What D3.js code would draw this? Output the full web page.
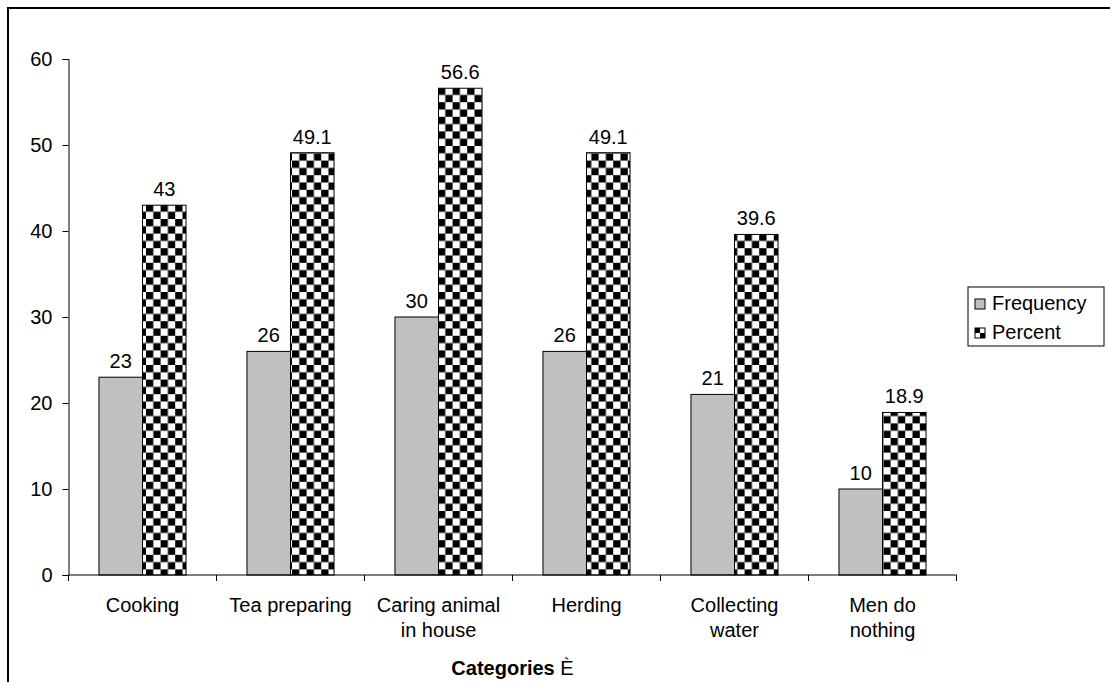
<!DOCTYPE html>
<html>
<head>
<meta charset="utf-8">
<script src="https://cdn.jsdelivr.net/npm/d3@7"></script>
<style>
  html, body { margin: 0; padding: 0; background: #fff; }
  svg { display: block; font-family: "Liberation Sans", Arial, sans-serif; }
</style>
</head>
<body>
<svg id="chart" width="1110" height="682"></svg>
<script>
// Household tasks by category: counts and percentages
const categories = [
  ["Cooking"],
  ["Tea preparing"],
  ["Caring animal", "in house"],
  ["Herding"],
  ["Collecting", "water"],
  ["Men do", "nothing"]
];
const frequency = [23, 26, 30, 26, 21, 10];
const percent = [43, 49.1, 56.6, 49.1, 39.6, 18.9];
const seriesNames = ["Frequency", "Percent"];
const yTicks = [0, 10, 20, 30, 40, 50, 60];
const xTitle = "Categories";
const xTitleMark = "\u00C8";

const FONT = 20;
const svg = d3.select("#chart");

// outer frame
svg.append("rect")
  .attr("x", 8).attr("y", 8)
  .attr("width", 1110).attr("height", 690)
  .attr("fill", "none").attr("stroke", "#000").attr("stroke-width", 2);

// checkerboard fill for the percent series
const defs = svg.append("defs");
const cell = 7.3;
const pat = defs.append("pattern")
  .attr("id", "checker")
  .attr("patternUnits", "userSpaceOnUse")
  .attr("width", cell * 2).attr("height", cell * 2);
pat.append("rect").attr("width", cell * 2).attr("height", cell * 2).attr("fill", "#fff");
pat.append("rect").attr("x", 0).attr("y", 0).attr("width", cell).attr("height", cell).attr("fill", "#000");
pat.append("rect").attr("x", cell).attr("y", cell).attr("width", cell).attr("height", cell).attr("fill", "#000");

const legendPat = defs.append("pattern")
  .attr("id", "checkerLegend")
  .attr("patternUnits", "userSpaceOnUse")
  .attr("x", 975).attr("y", 328)
  .attr("width", 10).attr("height", 10);
legendPat.append("rect").attr("width", 10).attr("height", 10).attr("fill", "#fff");
legendPat.append("rect").attr("x", 0).attr("y", 0).attr("width", 5).attr("height", 5).attr("fill", "#000");
legendPat.append("rect").attr("x", 5).attr("y", 5).attr("width", 5).attr("height", 5).attr("fill", "#000");

const plot = { left: 68.5, right: 956.5, top: 59, bottom: 575 };

const x0 = d3.scaleBand()
  .domain(d3.range(categories.length))
  .range([plot.left, plot.right])
  .padding(0);

const x1 = d3.scaleBand()
  .domain(seriesNames)
  .range([0, x0.bandwidth()])
  .paddingInner(0)
  .paddingOuter(0.7);

const y = d3.scaleLinear().domain([0, 60]).range([plot.bottom, plot.top]);

const fills = { Frequency: "#c0c0c0", Percent: "url(#checker)" };
const values = { Frequency: frequency, Percent: percent };

// bars and value labels
seriesNames.forEach(s => {
  svg.append("g").selectAll("rect")
    .data(values[s])
    .join("rect")
    .attr("x", (d, i) => x0(i) + x1(s))
    .attr("y", d => y(d))
    .attr("width", x1.bandwidth())
    .attr("height", d => y(0) - y(d))
    .attr("fill", fills[s])
    .attr("stroke", "#000")
    .attr("stroke-width", 1);

  svg.append("g").selectAll("text")
    .data(values[s])
    .join("text")
    .attr("x", (d, i) => x0(i) + x1(s) + x1.bandwidth() / 2)
    .attr("y", d => y(d) - 9)
    .attr("text-anchor", "middle")
    .attr("font-size", FONT)
    .attr("fill", "#000")
    .text(d => d);
});

// y axis
const yAxis = svg.append("g")
  .attr("transform", `translate(${plot.left},0)`)
  .call(d3.axisLeft(y).tickValues(yTicks).tickSize(6).tickPadding(10).tickFormat(d3.format("d")));
yAxis.select(".domain").attr("stroke", "#000");
yAxis.selectAll("line").attr("stroke", "#000");
yAxis.selectAll("text").attr("font-size", FONT).attr("fill", "#000")
  .attr("font-family", "Liberation Sans, Arial, sans-serif");

// x axis: baseline with tick marks at the category boundaries
const xAxisG = svg.append("g");
xAxisG.append("line")
  .attr("x1", plot.left).attr("x2", plot.right)
  .attr("y1", y(0)).attr("y2", y(0))
  .attr("stroke", "#000");
const boundaries = d3.range(categories.length + 1).map(i => i < categories.length ? x0(i) : plot.right);
xAxisG.selectAll("line.tick")
  .data(boundaries)
  .join("line")
  .attr("class", "tick")
  .attr("x1", d => d).attr("x2", d => d)
  .attr("y1", y(0)).attr("y2", y(0) + 6)
  .attr("stroke", "#000");

// category labels
const labels = svg.append("g").selectAll("text")
  .data(categories)
  .join("text")
  .attr("x", (d, i) => x0(i) + x0.bandwidth() / 2)
  .attr("y", 612)
  .attr("text-anchor", "middle")
  .attr("font-size", FONT)
  .attr("fill", "#000");
labels.selectAll("tspan")
  .data(d => d)
  .join("tspan")
  .attr("x", function () { return d3.select(this.parentNode).attr("x"); })
  .attr("dy", (d, i) => i === 0 ? 0 : 25)
  .text(d => d);

// x axis title
const title = svg.append("text")
  .attr("x", (plot.left + plot.right) / 2)
  .attr("y", 675)
  .attr("text-anchor", "middle")
  .attr("font-size", FONT)
  .attr("fill", "#000");
title.append("tspan").attr("font-weight", "bold").text(xTitle + " ");
title.append("tspan").text(xTitleMark);

// legend
const legend = svg.append("g");
legend.append("rect")
  .attr("x", 968).attr("y", 287)
  .attr("width", 136).attr("height", 59)
  .attr("fill", "#fff").attr("stroke", "#000").attr("stroke-width", 1);
const legendFills = { Frequency: "#c0c0c0", Percent: "url(#checkerLegend)" };
seriesNames.forEach((s, i) => {
  const ly = 299 + i * 29;
  legend.append("rect")
    .attr("x", 975).attr("y", ly)
    .attr("width", 10).attr("height", 10)
    .attr("fill", legendFills[s])
    .attr("stroke", "#000");
  legend.append("text")
    .attr("x", 992).attr("y", ly + 11)
    .attr("font-size", FONT)
    .attr("fill", "#000")
    .text(s);
});
</script>
</body>
</html>
